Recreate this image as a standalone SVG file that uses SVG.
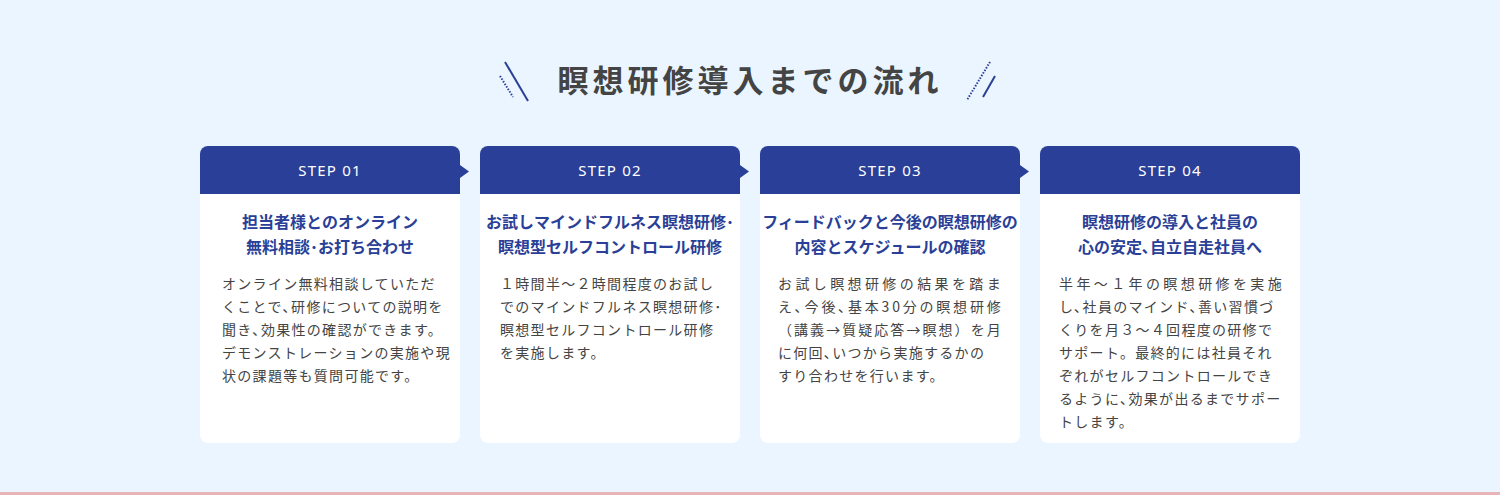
<svg xmlns="http://www.w3.org/2000/svg" width="1500" height="495" viewBox="0 0 1500 495">
<style>
.card{fill:#fff}
.hd{fill:#2a3f97}
.st{font-family:"Noto Sans","Noto Sans CJK JP",sans-serif;font-size:15px;fill:#fff;text-anchor:middle;letter-spacing:1.2px}
.tt{font-family:"Noto Sans CJK JP",sans-serif;font-size:16px;font-weight:bold;fill:#2a3f97;text-anchor:middle}
.bd{font-family:"Noto Sans CJK JP",sans-serif;font-size:14px;fill:#444;letter-spacing:1.3px}
</style>
<rect width="1500" height="495" fill="#eaf5ff"/>
<rect y="492" width="1500" height="3" fill="#e8b4b8"/>
<g id="title">
<line x1="505" y1="62" x2="528" y2="101" stroke="#2a3f97" stroke-width="2"/>
<line x1="500" y1="76" x2="513" y2="97" stroke="#2a3f97" stroke-width="2" stroke-dasharray="1.5 1.5"/>
<line x1="990" y1="62" x2="967" y2="100" stroke="#2a3f97" stroke-width="2" stroke-dasharray="1.5 1.5"/>
<line x1="995" y1="76" x2="983" y2="97" stroke="#2a3f97" stroke-width="2"/>
<text x="750" y="92" text-anchor="middle" font-family="Noto Sans CJK JP,sans-serif" font-size="31" font-weight="bold" fill="#444" letter-spacing="4">瞑想研修導入までの流れ</text>
</g>
<g id="connectors">
<path d="M460,165 L469,171.5 L460,178Z" fill="#2a3f97"/>
<path d="M740,165 L749,171.5 L740,178Z" fill="#2a3f97"/>
<path d="M1020,165 L1029,171.5 L1020,178Z" fill="#2a3f97"/>
</g>
<g id="step1">
<rect class="card" x="200" y="146" width="260" height="297" rx="8"/>
<path class="hd" d="M200,194 V154 a8,8 0 0 1 8,-8 H452 a8,8 0 0 1 8,8 V194Z"/>
<text class="st" x="330" y="176">STEP 01</text>
<text class="tt" x="330" y="228">担当者様とのオンライン</text>
<text class="tt" x="330" y="253">無料相談･お打ち合わせ</text>
<text class="bd" x="222" y="289">オンライン無料相談していただ</text>
<text class="bd" x="222" y="312">くことで､研修についての説明を</text>
<text class="bd" x="222" y="335">聞き､効果性の確認ができます。</text>
<text class="bd" x="222" y="358">デモンストレーションの実施や現</text>
<text class="bd" x="222" y="381">状の課題等も質問可能です。</text>
</g>
<g id="step2">
<rect class="card" x="480" y="146" width="260" height="297" rx="8"/>
<path class="hd" d="M480,194 V154 a8,8 0 0 1 8,-8 H732 a8,8 0 0 1 8,8 V194Z"/>
<text class="st" x="610" y="176">STEP 02</text>
<text class="tt" x="610" y="228">お試しマインドフルネス瞑想研修･</text>
<text class="tt" x="610" y="253">瞑想型セルフコントロール研修</text>
<text class="bd" x="500" y="289">１時間半～２時間程度のお試し</text>
<text class="bd" x="500" y="312">でのマインドフルネス瞑想研修･</text>
<text class="bd" x="500" y="335">瞑想型セルフコントロール研修</text>
<text class="bd" x="500" y="358">を実施します。</text>
</g>
<g id="step3">
<rect class="card" x="760" y="146" width="260" height="297" rx="8"/>
<path class="hd" d="M760,194 V154 a8,8 0 0 1 8,-8 H1012 a8,8 0 0 1 8,8 V194Z"/>
<text class="st" x="890" y="176">STEP 03</text>
<text class="tt" x="890" y="228">フィードバックと今後の瞑想研修の</text>
<text class="tt" x="890" y="253">内容とスケジュールの確認</text>
<text class="bd" x="778" y="289" textLength="224">お試し瞑想研修の結果を踏ま</text>
<text class="bd" x="778" y="312" textLength="224">え､今後､基本30分の瞑想研修</text>
<text class="bd" x="778" y="335" textLength="224">（講義→質疑応答→瞑想）を月</text>
<text class="bd" x="778" y="358">に何回､いつから実施するかの</text>
<text class="bd" x="778" y="381">すり合わせを行います。</text>
</g>
<g id="step4">
<rect class="card" x="1040" y="146" width="260" height="297" rx="8"/>
<path class="hd" d="M1040,194 V154 a8,8 0 0 1 8,-8 H1292 a8,8 0 0 1 8,8 V194Z"/>
<text class="st" x="1170" y="176">STEP 04</text>
<text class="tt" x="1170" y="228">瞑想研修の導入と社員の</text>
<text class="tt" x="1170" y="253">心の安定､自立自走社員へ</text>
<text class="bd" x="1059" y="289" textLength="224">半年～１年の瞑想研修を実施</text>
<text class="bd" x="1059" y="312">し､社員のマインド､善い習慣づ</text>
<text class="bd" x="1059" y="335">くりを月３～４回程度の研修で</text>
<text class="bd" x="1059" y="358">サポート。最終的には社員それ</text>
<text class="bd" x="1059" y="381">ぞれがセルフコントロールでき</text>
<text class="bd" x="1059" y="404">るように､効果が出るまでサポー</text>
<text class="bd" x="1059" y="427">トします。</text>
</g>
</svg>
